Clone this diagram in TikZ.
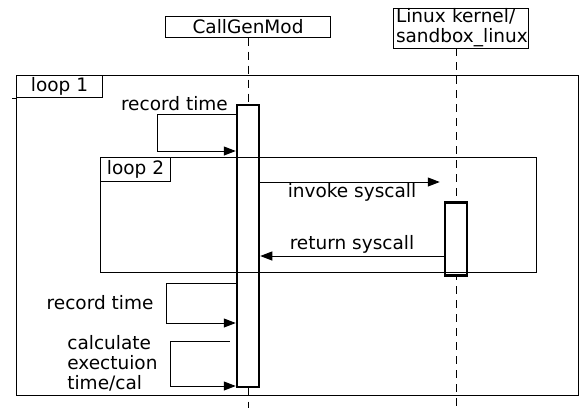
\documentclass[tikz,border=0pt]{standalone}
\usepackage{fontspec}
\setmainfont{DejaVu Sans}
\usetikzlibrary{arrows.meta, positioning, calc}

\begin{document}
\begin{tikzpicture}[x=1pt, y=-1pt, >={Triangle[length=12pt, width=9pt]},
  every node/.style={font=\fontsize{18.5}{20}\selectfont},
  headbox/.style={draw, line width=1pt, inner sep=0pt},
  lifeline/.style={line width=1pt, dash pattern=on 8pt off 6pt},
  actbar/.style={draw, line width=2.5pt, fill=white, minimum width=22pt, inner sep=0pt},
  loopframe/.style={draw, line width=1pt},
  looptab/.style={draw, line width=1pt, anchor=north west, inner sep=0pt, minimum height=22pt},
  msg/.style={->, line width=1pt}]

\useasboundingbox (0,0) rectangle (583,408);

% Define nodes
\node[headbox, minimum width=165pt, minimum height=21pt] (cgm) at (248,26.5) {CallGenMod};
\node[headbox, minimum width=135pt, minimum height=40pt, text width=129pt, align=left,
      inner xsep=3pt] (linux) at (460.5,28) {Linux kernel/\\sandbox\_linux};

\coordinate (cgmEnd) at (cgm.south |- 0,408);
\coordinate (linuxTop) at (456,48);
\coordinate (linuxEnd) at (456,408);

% Lifelines
\draw[lifeline] (cgm.south) -- (cgmEnd);
\draw[lifeline] (linuxTop) -- (linuxEnd);

% Activation bars
\node[actbar, minimum height=282pt, below=66pt of cgm] (bar1) {};
\node[actbar, minimum height=73pt, anchor=north] (bar2) at (linuxTop |- 0,201) {};

% Loop frames
\draw[loopframe] (16,75) rectangle (578,395);
\node[looptab, minimum width=86pt] (loop1) at (16,75) {loop 1};
\draw[loopframe] (loop1.south west) -- ++(-4,0);
\draw[loopframe] (100,157) rectangle (536,272);
\node[looptab, minimum width=70pt, minimum height=24pt] (loop2) at (100,157) {loop 2};

% Self messages on CallGenMod
\draw[msg] (bar1.west |- 0,114) -- (157,114) -- (157,151) -- (bar1.west |- 0,151);
\node[anchor=south east, inner sep=1pt] (rec1) at (229,112) {record time};

\draw[msg] (bar1.west |- 0,283) -- (166,283)
  -- node[left=12pt, inner sep=0pt] (rec2) {record time} (166,323) -- (bar1.west |- 0,323);

\coordinate (calcStart) at ($(bar1.west |- 0,341)+(-6,0)$);
\draw[msg] (calcStart) -- (170,341)
  -- node[left=12pt, inner sep=0pt, align=left] (calc) {calculate\\exectuion\\time/cal} (170,386)
  -- (bar1.west |- 0,386);

% Calls to the kernel
\draw[msg, shorten >=4pt] (bar1.east |- 0,182) -- node[below=0pt, inner sep=1pt] (inv) {invoke syscall} (bar2.west |- 0,182);
\draw[msg] (bar2.west |- 0,256) -- node[above=1pt, inner sep=1pt] (ret) {return syscall} (bar1.east |- 0,256);

\end{tikzpicture}
\end{document}
